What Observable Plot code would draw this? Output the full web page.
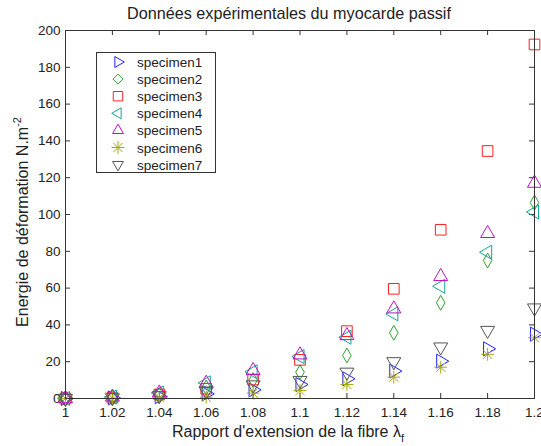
<!DOCTYPE html>
<html>
<head>
<meta charset="utf-8">
<script src="https://cdn.jsdelivr.net/npm/d3@7"></script>
<script src="https://cdn.jsdelivr.net/npm/@observablehq/plot@0.6"></script>
<style>
  html, body { margin: 0; padding: 0; background: #fff; }
  svg { display: block; }
</style>
</head>
<body>
<div id="chart"></div>
<script>
// ---- data ----
const xValues = [1, 1.02, 1.04, 1.06, 1.08, 1.1, 1.12, 1.14, 1.16, 1.18, 1.2];
const specimen1 = [0, 0.3, 1.0, 2.5, 4.7, 7.6, 10.7, 14.9, 20.3, 27.0, 35.0];
const specimen2 = [0, 0.5, 2.0, 6.0, 10.0, 14.3, 23.4, 35.7, 52.0, 75.0, 106.5];
const specimen3 = [0, 0.5, 2.2, 5.3, 10.3, 21.0, 36.6, 59.6, 91.7, 134.5, 192.4];
const specimen4 = [0, 0.8, 3.0, 8.5, 14.5, 22.8, 33.3, 46.0, 61.0, 79.5, 101.4];
const specimen5 = [0, 0.8, 3.0, 8.3, 15.2, 23.7, 34.2, 48.7, 66.3, 89.7, 117.0];
const specimen6 = [0, 0.2, 0.5, 0.7, 2.9, 4.3, 7.6, 11.6, 17.0, 24.0, 33.0];
const specimen7 = [0, 0.4, 1.5, 4.0, 7.4, 9.8, 14.3, 20.0, 28.0, 37.0, 49.2];
const seriesNames = ["specimen1", "specimen2", "specimen3", "specimen4", "specimen5", "specimen6", "specimen7"];
const xTicks = [1, 1.02, 1.04, 1.06, 1.08, 1.1, 1.12, 1.14, 1.16, 1.18, 1.2];
const yTicks = [0, 20, 40, 60, 80, 100, 120, 140, 160, 180, 200];
const titleText = "Données expérimentales du myocarde passif";
const xLabelText = "Rapport d'extension de la fibre λ";
const xLabelSub = "f";
const yLabelText = "Energie de déformation N.m";
const yLabelSup = "-2";

// ---- styles ----
const seriesValues = [specimen1, specimen2, specimen3, specimen4, specimen5, specimen6, specimen7];
const styles = [
  {color: "#1f1fff", symbols: ["triangle"], rotate: 90, r: 5.2},
  {color: "#2f9f2f", symbols: ["diamond"], rotate: 0, r: 4.5},
  {color: "#ff1f1f", symbols: ["square"], rotate: 0, r: 6.0},
  {color: "#10a890", symbols: ["triangle"], rotate: -90, r: 5.2},
  {color: "#bf10bf", symbols: ["triangle"], rotate: 0, r: 5.2},
  {color: "#a8a810", symbols: ["plus", "times"], rotate: 0, r: 4.2},
  {color: "#555555", symbols: ["triangle"], rotate: 180, r: 5.2}
];

const W = 541, H = 446;
const mTop = 30, mRight = 7, mBottom = 48, mLeft = 65;
const plotW = W - mLeft - mRight, plotH = H - mTop - mBottom;
const tick = 5;
const fmt = d => String(+d.toFixed(2));

const dotMarks = [];
seriesNames.forEach((name, i) => {
  const rows = xValues.map((x, j) => ({x, y: seriesValues[i][j], name}));
  const st = styles[i];
  st.symbols.forEach(sym => {
    dotMarks.push(Plot.dot(rows, {
      x: "x", y: "y", symbol: () => sym, stroke: st.color, fill: "none",
      r: st.r, rotate: st.rotate, strokeWidth: 1
    }));
  });
});

const chart = Plot.plot({
  width: W, height: H,
  marginTop: mTop, marginRight: mRight, marginBottom: mBottom, marginLeft: mLeft,
  x: {domain: [1, 1.2]},
  y: {domain: [0, 200]},
  style: {fontFamily: "'Liberation Sans', Arial, sans-serif", fontSize: "13px", color: "#222", background: "#fff"},
  marks: [
    // inward ticks, all four sides
    Plot.ruleX(xTicks, {x: d => d, insetTop: plotH - tick, stroke: "#333"}),
    Plot.ruleX(xTicks, {x: d => d, insetBottom: plotH - tick, stroke: "#333"}),
    Plot.ruleY(yTicks, {y: d => d, insetRight: plotW - tick, stroke: "#333"}),
    Plot.ruleY(yTicks, {y: d => d, insetLeft: plotW - tick, stroke: "#333"}),
    Plot.axisX(xTicks, {tickSize: 0, tickPadding: 9, tickFormat: fmt, label: null, fontSize: 13.5}),
    Plot.axisY(yTicks, {tickSize: 0, tickPadding: 5, tickFormat: fmt, label: null, fontSize: 13.5}),
    ...dotMarks,
    Plot.frame({stroke: "#333"})
  ]
});

document.getElementById("chart").appendChild(chart);

// ---- titles & labels ----
const svg = d3.select(chart);
svg.append("text")
  .attr("x", 289).attr("y", 19)
  .attr("text-anchor", "middle")
  .attr("font-size", 16.2).attr("fill", "#222")
  .text(titleText);

const xl = svg.append("text")
  .attr("x", 288).attr("y", 437)
  .attr("text-anchor", "middle")
  .attr("font-size", 16).attr("fill", "#222");
xl.append("tspan").text(xLabelText);
xl.append("tspan").attr("dy", 5).attr("font-size", 11).text(xLabelSub);

const yl = svg.append("text")
  .attr("transform", `translate(28, 222) rotate(-90)`)
  .attr("text-anchor", "middle")
  .attr("font-size", 16).attr("fill", "#222");
yl.append("tspan").text(yLabelText);
yl.append("tspan").attr("dy", -7).attr("font-size", 11).text(yLabelSup);

// ---- legend ----
const symMap = {triangle: d3.symbolTriangle2, diamond: d3.symbolDiamond2, square: d3.symbolSquare2, plus: d3.symbolPlus, times: d3.symbolTimes};
const lg = svg.append("g").attr("text-anchor", "start");
lg.append("rect")
  .attr("x", 96.5).attr("y", 52.5).attr("width", 119).attr("height", 120)
  .attr("fill", "#fff").attr("stroke", "#333");
seriesNames.forEach((name, i) => {
  const cy = 62 + i * 17.1;
  const st = styles[i];
  st.symbols.forEach(sym => {
    lg.append("path")
      .attr("d", d3.symbol(symMap[sym], Math.PI * st.r * st.r)())
      .attr("transform", `translate(118, ${cy}) rotate(${st.rotate})`)
      .attr("fill", "none").attr("stroke", st.color).attr("stroke-width", 1);
  });
  lg.append("text")
    .attr("x", 137).attr("y", cy + 5)
    .attr("text-anchor", "start")
    .attr("font-size", 13.5).attr("fill", "#222")
    .text(name);
});
</script>
</body>
</html>
